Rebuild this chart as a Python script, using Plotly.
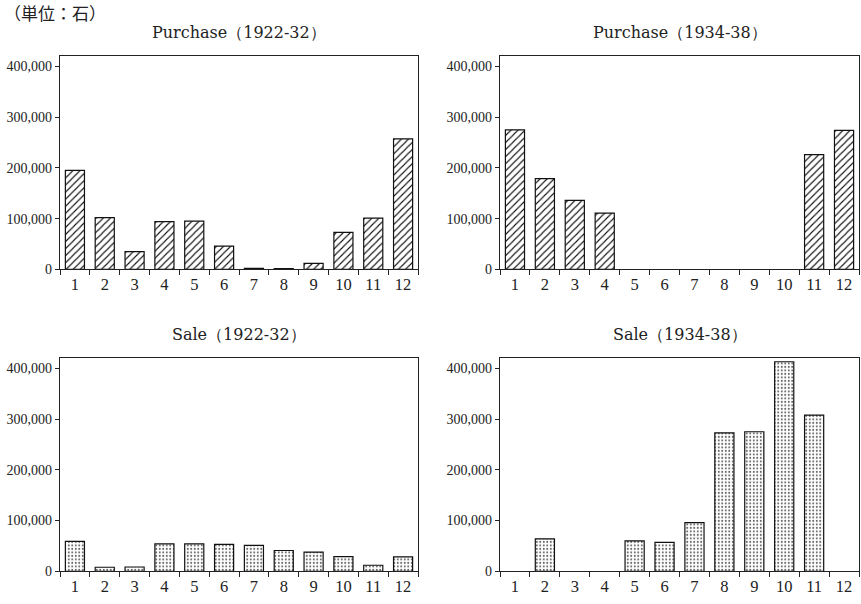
import plotly.graph_objects as go

months = [str(m) for m in range(1, 13)]

purchase_1922_32 = [195000, 102000, 35000, 94000, 95000, 46000, 2000, 1500, 12000, 73000, 101000, 257000]
purchase_1934_38 = [275000, 179000, 136000, 111000, 0, 0, 0, 0, 0, 0, 226000, 274000]
sale_1922_32 = [59000, 8000, 8500, 54000, 54000, 53000, 51000, 41000, 38000, 29000, 12000, 28500]
sale_1934_38 = [0, 64000, 0, 0, 60000, 57000, 96000, 273000, 275000, 413000, 308000, 0]

titles = ["Purchase（1922-32）", "Purchase（1934-38）", "Sale（1922-32）", "Sale（1934-38）"]
unit_label = "（単位：石）"
y_ticks = [0, 100000, 200000, 300000, 400000]
y_tick_text = ["0", "100,000", "200,000", "300,000", "400,000"]

W, H = 861, 604
SERIF = "DejaVu Serif, Liberation Serif, serif"
SERIF_X = "Liberation Serif, DejaVu Serif, serif"
INK = "#222222"

panels = [
    (purchase_1922_32, "/", titles[0], (60, 418), (57, 273)),
    (purchase_1934_38, "/", titles[1], (500, 859), (57, 273)),
    (sale_1922_32, ".", titles[2], (60, 418), (363, 579)),
    (sale_1934_38, ".", titles[3], (500, 859), (363, 579)),
]

fig = go.Figure()
annotations = []
for i, (vals, shape, title, (x0, x1), (y0, y1)) in enumerate(panels, start=1):
    xa = "x" if i == 1 else f"x{i}"
    ya = "y" if i == 1 else f"y{i}"
    if shape == "/":
        pattern = dict(shape="/", fgcolor="#111111", bgcolor="white", fillmode="replace",
                       size=5, solidity=0.22)
    else:
        pattern = dict(shape=".", fgcolor="#666666", bgcolor="white", fillmode="replace",
                       size=3.5, solidity=0.25)
    fig.add_trace(go.Bar(
        x=months, y=[v if v > 0 else None for v in vals], xaxis=xa, yaxis=ya,
        marker=dict(color="white", pattern=pattern, line=dict(color="#111111", width=1.2)),
        showlegend=False, hoverinfo="x+y",
    ))
    xdom = [x0 / W, x1 / W]
    ydom = [1 - y1 / H, 1 - y0 / H]
    xkey = "xaxis" if i == 1 else f"xaxis{i}"
    ykey = "yaxis" if i == 1 else f"yaxis{i}"
    fig.update_layout(**{
        xkey: dict(domain=xdom, anchor=ya, type="category", tickson="boundaries",
                   ticks="outside", ticklen=5, tickcolor=INK, tickwidth=1,
                   showline=True, linecolor=INK, linewidth=1.2, mirror=True,
                   showgrid=False, zeroline=False, fixedrange=True,
                   tickfont=dict(family=SERIF_X, size=16.5, color=INK)),
        ykey: dict(domain=ydom, anchor=xa, range=[0, 420000],
                   tickvals=y_ticks, ticktext=y_tick_text,
                   ticks="outside", ticklen=4, tickcolor=INK, tickwidth=1,
                   showline=True, linecolor=INK, linewidth=1.2, mirror=True,
                   showgrid=False, zeroline=False, fixedrange=True,
                   tickfont=dict(family=SERIF_X, size=14, color=INK)),
    })
    annotations.append(dict(
        text=title, x=(x0 + x1) / 2 / W, y=1 - (y0 - 24) / H, xref="paper", yref="paper",
        xanchor="center", yanchor="middle", showarrow=False,
        font=dict(family=SERIF, size=16, color=INK),
    ))

annotations.append(dict(
    text=unit_label, x=2 / W, y=1 - 13 / H, xref="paper", yref="paper",
    xanchor="left", yanchor="middle", showarrow=False,
    font=dict(family="Noto Sans CJK JP, sans-serif", size=17, color=INK),
))

fig.update_layout(
    width=W, height=H, margin=dict(l=0, r=0, t=0, b=0),
    paper_bgcolor="white", plot_bgcolor="white",
    bargap=0.36, annotations=annotations,
)

fig.write_html("out.html", config={"displayModeBar": False},
               post_script="document.body.style.margin='0';")
